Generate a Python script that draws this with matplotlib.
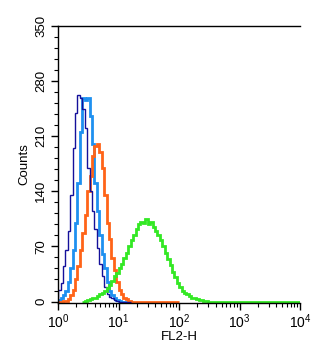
import numpy as np
import matplotlib
matplotlib.use('Agg')
import matplotlib.pyplot as plt
from matplotlib.ticker import MultipleLocator, LogLocator, NullFormatter

plt.rcParams['font.family'] = ['Liberation Sans', 'DejaVu Sans']
plt.rcParams['mathtext.default'] = 'regular'

# histogram channels: 0.04 decade wide, each series starts at its own bin index
bin_width = 0.04

navy_start = 0
navy_counts = [15, 24, 45, 65, 90, 135, 195, 240, 262, 258, 245, 220, 170, 140,
               115, 92, 68, 48, 32, 18, 10, 6, 4, 2, 1, 0, 0, 0, 0, 0]

blue_start = 0
blue_counts = [2, 4, 8, 14, 25, 42, 65, 100, 150, 215, 258, 256, 259, 235, 200,
               150, 115, 85, 60, 42, 25, 14, 8, 4, 2, 1, 0, 0, 0, 0, 0]

orange_start = 0
orange_counts = [0, 0, 1, 1, 3, 8, 15, 28, 45, 65, 87, 110, 140, 160, 185, 198,
                 200, 190, 170, 135, 100, 80, 55, 40, 25, 15, 9, 5, 3, 1, 0, 0,
                 0, 0, 0, 0, 0, 0, 0, 0, 0, 0, 0, 0, 0, 0, 0, 0, 0, 0]

green_start = 10
green_counts = [0, 1, 2, 3, 4, 5, 7, 9, 11, 14, 17, 21, 26, 32, 36, 42, 48,
                55, 62, 70, 78, 85, 92, 98, 101, 100, 105, 99, 101, 95, 90, 84,
                78, 70, 62, 54, 46, 38, 31, 24, 18, 14, 11, 9, 7, 5, 4, 3, 2, 2,
                1, 1, 0]

x_ticks = [1, 10, 100, 1000, 10000]
x_labels = ['$10^{0}$', '$10^{1}$', '$10^{2}$', '$10^{3}$', '$10^{4}$']
y_ticks = [0, 70, 140, 210, 280, 350]


def edges_for(start, counts):
    return 10 ** ((start + np.arange(len(counts) + 1)) * bin_width)


fig = plt.figure(figsize=(3.34, 3.5), dpi=100)
ax = fig.add_axes([0.174, 0.134, 0.725, 0.792])

series = [
    (blue_start, blue_counts, '#1e90f0', 2.0),
    (orange_start, orange_counts, '#ff6418', 2.0),
    (navy_start, navy_counts, '#14109a', 1.0),
]
for start, counts, color, lw in series:
    ax.stairs(counts, edges_for(start, counts), color=color, linewidth=lw)

# green runs along the baseline out to the end of the scale
g_edges = list(edges_for(green_start, green_counts)) + [10000]
ax.stairs(green_counts + [0], g_edges, color='#33e824', linewidth=2.0)

ax.set_xscale('log')
ax.set_xlim(1, 10000)
ax.set_ylim(-2, 350)

ax.set_xticks(x_ticks)
ax.set_xticklabels(x_labels, fontsize=10)
ax.xaxis.set_minor_locator(LogLocator(base=10, subs=np.arange(2, 10)))
ax.xaxis.set_minor_formatter(NullFormatter())

ax.set_yticks(y_ticks)
ax.set_yticklabels([str(v) for v in y_ticks], rotation=90, va='center', fontsize=9.5)
ax.yaxis.set_minor_locator(MultipleLocator(14))

ax.tick_params(axis='both', which='major', length=5, width=1, direction='out', pad=3)
ax.tick_params(axis='both', which='minor', length=3, width=0.8, direction='out')
ax.tick_params(axis='x', which='major', pad=2)

ax.spines['right'].set_visible(False)
for s in ['left', 'top', 'bottom']:
    ax.spines[s].set_linewidth(1.0)

ax.set_xlabel('FL2-H', fontsize=9.5, labelpad=0)
ax.set_ylabel('Counts', fontsize=9.5, labelpad=3)

fig.savefig('out.png', dpi=100)
